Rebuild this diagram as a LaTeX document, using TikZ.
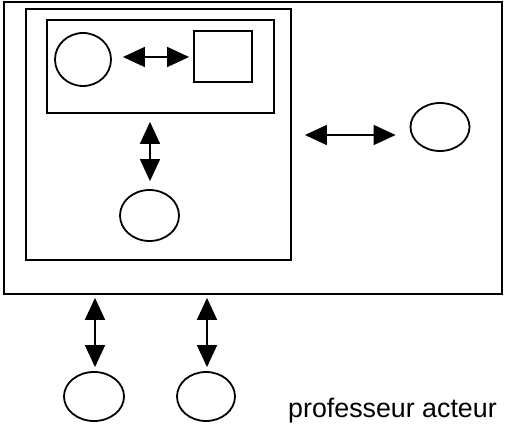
\documentclass[tikz,border=0pt]{standalone}
\usepackage{fontspec}
\setmainfont{Liberation Sans}
\usetikzlibrary{arrows.meta,calc,shapes.geometric}
\begin{document}
\begin{tikzpicture}[x=1pt,y=-1pt,
  box/.style={draw,line width=1.8pt,inner sep=0pt,rectangle},
  oval/.style={draw,line width=1.8pt,inner sep=0pt,ellipse},
  link/.style={line width=1.5pt,{Triangle[length=22pt,width=20pt]}-{Triangle[length=22pt,width=20pt]}}]
\useasboundingbox (0,0) rectangle (509,435);
\node[box,minimum width=498pt,minimum height=292pt] (outer) at (253,148) {};
\node[box,minimum width=265pt,minimum height=251pt] (inner) at (158.5,134.5) {};
\node[box,minimum width=227pt,minimum height=93pt] (core) at (160.5,66.5) {};
\node[oval,minimum width=56pt,minimum height=53pt] (c1) at (83,59.5) {};
\node[box,minimum width=58pt,minimum height=51pt] (sq) at (223,56.5) {};
\node[oval,minimum width=59pt,minimum height=51pt] (mid) at (149.5,215.5) {};
\node[oval,minimum width=59pt,minimum height=48pt] (right) at (440,127) {};
\node[oval,minimum width=60pt,minimum height=49pt] (b1) at (94,396.5) {};
\node[oval,minimum width=58pt,minimum height=49pt] (b2) at (206,396.5) {};
\node[anchor=base west,inner sep=0pt,font=\fontsize{26.8}{31}\selectfont] (lbl) at (288,418) {professeur acteur};
\draw[link,shorten <=11pt,shorten >=4pt] (c1.east |- 0,57) -- (sq.west |- 0,57);
\draw[link,shorten <=8pt,shorten >=8pt] (core.south -| 150,0) -- (mid.north -| 150,0);
\draw[link,shorten <=13pt,shorten >=14pt] (inner.east |- 0,135) -- (right.west |- 0,135);
\draw[link,shorten <=3pt,shorten >=4pt] (outer.south -| 95,0) -- (b1.north -| 95,0);
\draw[link,shorten <=3pt,shorten >=4pt] (outer.south -| 207,0) -- (b2.north -| 207,0);
\end{tikzpicture}
\end{document}
